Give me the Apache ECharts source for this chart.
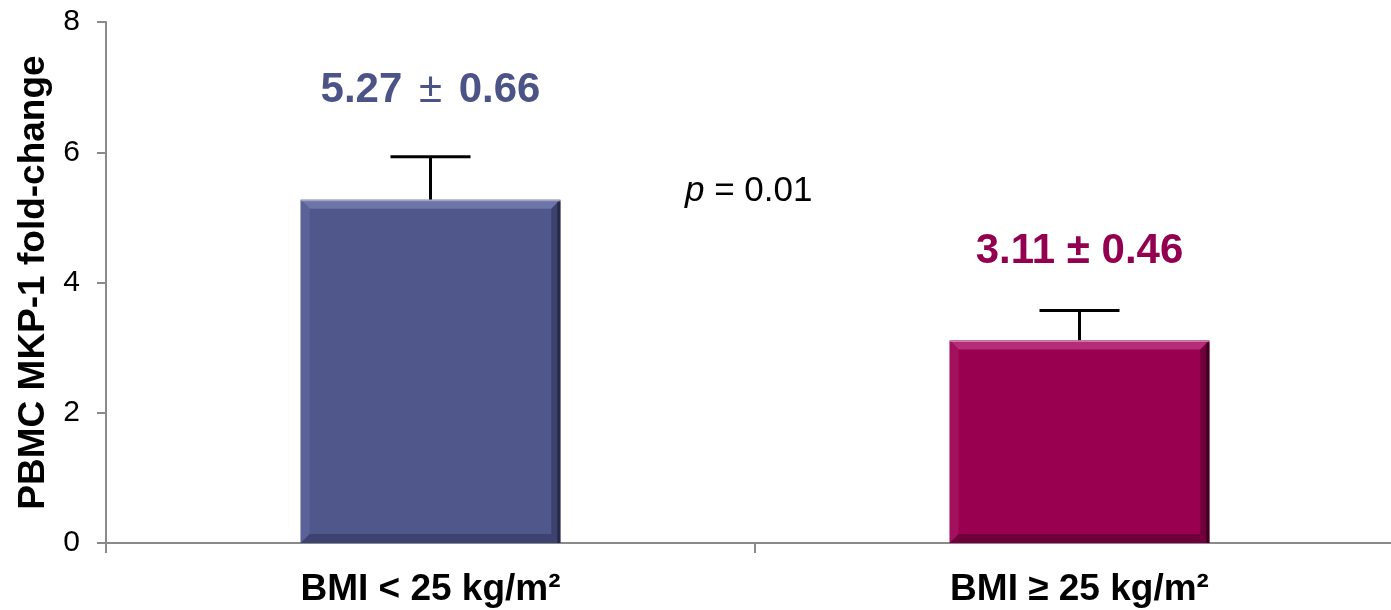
<!DOCTYPE html>
<html>
<head>
<meta charset="utf-8">
<script src="https://cdn.jsdelivr.net/npm/echarts@6/dist/echarts.min.js"></script>
<style>
html,body{margin:0;padding:0;background:#fff;}
#chart{width:1391px;height:610px;}
</style>
</head>
<body>
<div id="chart"></div>
<script>
// ---- data ----
const categories = ['BMI < 25 kg/m²', 'BMI ≥ 25 kg/m²'];
const means = [5.27, 3.11];
const sems = [0.66, 0.46];
const meanText = ['5.27', '3.11'];
const semText = ['0.66', '0.46'];
const yTicks = [0, 2, 4, 6, 8];
const pText = '0.01';

// ---- styling ----
const FONT = 'Liberation Sans';
const barStyles = [
  { main: '#50578a', top: '#6c74a8', left: '#5a6298', right: '#3c416e', bottom: '#3d4270', edge: '#262947', label: '#4b5387', pmWeight: 'normal', pmPad: 5 },
  { main: '#99004f', top: '#b52d78', left: '#a3105e', right: '#6e003a', bottom: '#70003c', edge: '#3f0020', label: '#930050', pmWeight: 'bold', pmPad: 0 }
];
const labelAnchor = [6.95, 4.47]; // value-axis position of the mean ± SEM text

const chart = echarts.init(document.getElementById('chart'), null, { renderer: 'canvas' });

function renderBar(params, api) {
  const i = api.value(0);
  const v = api.value(1);
  const s = barStyles[i];
  const w = api.size([1, 0])[0] * 0.4;
  const pTop = api.coord([i, v]);
  const pBot = api.coord([i, 0]);
  const x0 = pTop[0] - w / 2, x1 = pTop[0] + w / 2;
  const y0 = pTop[1], y1 = pBot[1];
  const b = 9;
  const poly = (pts, fill) => ({ type: 'polygon', shape: { points: pts }, style: { fill: fill }, silent: true });
  return {
    type: 'group',
    children: [
      { type: 'rect', shape: { x: x0, y: y0, width: x1 - x0, height: y1 - y0 }, style: { fill: s.main } },
      poly([[x0, y0], [x1, y0], [x1 - b, y0 + b], [x0 + b, y0 + b]], s.top),
      poly([[x0, y0], [x0 + b, y0 + b], [x0 + b, y1 - b], [x0, y1]], s.left),
      poly([[x1, y0], [x1, y1], [x1 - b, y1 - b], [x1 - b, y0 + b]], s.right),
      poly([[x0, y1], [x1, y1], [x1 - b, y1 - b], [x0 + b, y1 - b]], s.bottom),
      { type: 'rect', shape: { x: x1 - 3, y: y0 + 2, width: 3, height: y1 - y0 - 2 }, style: { fill: s.edge } },
      { type: 'rect', shape: { x: x0, y: y0, width: x1 - x0, height: 1.5 }, style: { fill: '#ffffff', opacity: 0.35 } }
    ]
  };
}

function renderErr(params, api) {
  const i = api.value(0);
  const m = api.value(1);
  const e = api.value(2);
  const pm = api.coord([i, m]);
  const pt = api.coord([i, m + e]);
  const cap = 40;
  const ls = { stroke: '#000', lineWidth: 3 };
  return {
    type: 'group',
    children: [
      { type: 'line', shape: { x1: pm[0], y1: pm[1], x2: pt[0], y2: pt[1] }, style: ls },
      { type: 'line', shape: { x1: pt[0] - cap, y1: pt[1], x2: pt[0] + cap, y2: pt[1] }, style: ls }
    ]
  };
}

function renderLabel(params, api) {
  const i = api.value(0);
  const s = barStyles[i];
  const p = api.coord([i, labelAnchor[i]]);
  return {
    type: 'text',
    x: p[0], y: p[1],
    style: {
      text: '{a|' + meanText[i] + '}{pm| ± }{a|' + semText[i] + '}',
      rich: {
        a: { fill: s.label, fontFamily: FONT, fontWeight: 'bold', fontSize: 42 },
        pm: { fill: s.label, fontFamily: FONT, fontWeight: s.pmWeight, fontSize: 42, padding: [0, s.pmPad] }
      },
      align: 'center',
      verticalAlign: 'middle'
    }
  };
}

const option = {
  animation: false,
  backgroundColor: '#ffffff',
  grid: { left: 106, top: 22, width: 1298, height: 521, containLabel: false, outerBoundsMode: 'none' },
  xAxis: {
    type: 'category',
    data: categories,
    boundaryGap: true,
    axisLine: { show: true, lineStyle: { color: '#8a8a8a', width: 2 } },
    axisTick: { show: true, length: 10, lineStyle: { color: '#8a8a8a', width: 2 } },
    axisLabel: { color: '#000', fontFamily: FONT, fontWeight: 'bold', fontSize: 37, margin: 28 }
  },
  yAxis: {
    type: 'value',
    min: yTicks[0],
    max: yTicks[yTicks.length - 1],
    interval: yTicks[1] - yTicks[0],
    name: 'PBMC MKP-1 fold-change',
    nameLocation: 'middle',
    nameRotate: 90,
    nameGap: 54,
    nameTextStyle: { color: '#000', fontFamily: FONT, fontWeight: 'bold', fontSize: 37 },
    splitLine: { show: false },
    axisLine: { show: true, lineStyle: { color: '#8a8a8a', width: 2 } },
    axisTick: { show: true, length: 9, lineStyle: { color: '#8a8a8a', width: 2 } },
    axisLabel: { color: '#000', fontFamily: FONT, fontSize: 30, margin: 26 }
  },
  series: [
    {
      type: 'custom',
      renderItem: renderBar,
      data: means.map((m, i) => [i, m]),
      encode: { x: 0, y: 1 },
      z: 2
    },
    {
      type: 'custom',
      renderItem: renderErr,
      data: means.map((m, i) => [i, m, sems[i]]),
      encode: { x: 0, y: [1] },
      z: 1
    },
    {
      type: 'custom',
      renderItem: renderLabel,
      data: means.map((m, i) => [i, m]),
      encode: { x: 0, y: 1 },
      z: 3
    }
  ],
  graphic: [
    {
      type: 'text',
      left: 685,
      top: 174,
      style: {
        rich: {
          it: { fontStyle: 'italic', fontFamily: FONT, fontSize: 35, fill: '#000' },
          n: { fontFamily: FONT, fontSize: 35, fill: '#000' }
        },
        text: '{it|p}{n| = ' + pText + '}'
      }
    }
  ]
};
chart.setOption(option);
</script>
</body>
</html>
